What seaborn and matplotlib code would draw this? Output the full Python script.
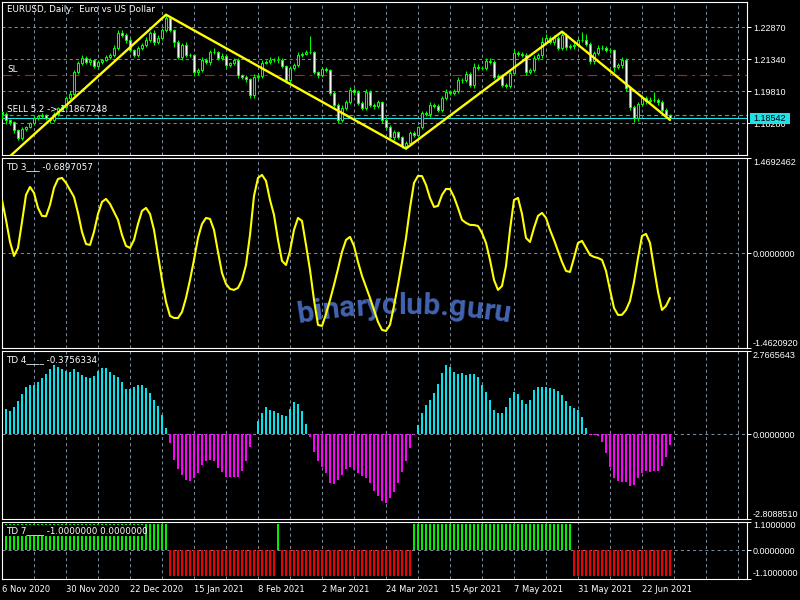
import math
import numpy as np
import pandas as pd
import matplotlib
matplotlib.use("Agg")
import matplotlib.pyplot as plt
import seaborn as sns
from matplotlib.patches import Rectangle
from matplotlib.font_manager import FontProperties

# ---------------------------------------------------------------- data
date_labels = ["6 Nov 2020", "30 Nov 2020", "22 Dec 2020", "15 Jan 2021", "8 Feb 2021",
               "2 Mar 2021", "24 Mar 2021", "15 Apr 2021", "7 May 2021", "31 May 2021",
               "22 Jun 2021"]
date_pos = [0, 16, 32, 48, 64, 80, 96, 112, 128, 144, 160]

first_open = 1.1880
closes = [
    1.18725, 1.18438, 1.18342, 1.17960, 1.17578, 1.18008, 1.18103, 1.18295, 1.18534, 1.18629,
    1.18677, 1.18534, 1.18438, 1.18725, 1.19012, 1.19059, 1.19490, 1.19681, 1.20732, 1.21163,
    1.21402, 1.21210, 1.21306, 1.21019, 1.21210, 1.21306, 1.21449, 1.21545, 1.21880, 1.22597,
    1.22501, 1.22262, 1.21784, 1.21545, 1.21880, 1.22023, 1.22262, 1.22597, 1.22166, 1.22358,
    1.22740, 1.23314, 1.22740, 1.22166, 1.21449, 1.22023, 1.21545, 1.21530, 1.20732, 1.20828,
    1.21306, 1.21210, 1.21688, 1.21670, 1.21402, 1.21497, 1.21067, 1.21163, 1.21306, 1.20589,
    1.20493, 1.20398, 1.19633, 1.20493, 1.20541, 1.21163, 1.21210, 1.21306, 1.21290, 1.21320,
    1.21019, 1.20350, 1.20924, 1.21067, 1.21545, 1.21593, 1.21688, 1.21670, 1.20732, 1.20589,
    1.20876, 1.20828, 1.19729, 1.19155, 1.18438, 1.19012, 1.19298, 1.19872, 1.19776, 1.19251,
    1.19012, 1.19776, 1.19155, 1.19107, 1.19298, 1.18438, 1.18103, 1.17625, 1.17864, 1.17625,
    1.17195, 1.17339, 1.17817, 1.17721, 1.18103, 1.18772, 1.18725, 1.19155, 1.19107, 1.18916,
    1.19490, 1.19776, 1.19729, 1.19824, 1.20350, 1.20330, 1.20637, 1.20111, 1.20971, 1.20924,
    1.20940, 1.21258, 1.21210, 1.20493, 1.20541, 1.20111, 1.20063, 1.20685, 1.21641, 1.21593,
    1.21545, 1.20732, 1.20828, 1.21402, 1.21545, 1.22166, 1.22358, 1.22166, 1.22358, 1.21880,
    1.22501, 1.21927, 1.21975, 1.22023, 1.22262, 1.22240, 1.22070, 1.21258, 1.21641, 1.21880,
    1.21860, 1.21784, 1.21770, 1.20971, 1.21067, 1.21306, 1.19968, 1.19059, 1.18534, 1.19203,
    1.19490, 1.19346, 1.19394, 1.19380, 1.19298, 1.18916, 1.18677, 1.18542]
# shadow lengths in pips (0.0001)
wick_up = [
    5, 8, 6, 5, 6, 8, 6, 7, 9, 6,
    8, 6, 7, 9, 6, 10, 8, 12, 10, 9,
    12, 8, 10, 7, 9, 6, 8, 10, 12, 14,
    12, 8, 10, 6, 9, 8, 12, 10, 15, 12,
    10, 16, 8, 6, 10, 8, 12, 8, 6, 10,
    12, 8, 10, 18, 8, 12, 9, 6, 8, 10,
    6, 8, 7, 14, 8, 12, 10, 15, 8, 18,
    8, 6, 10, 8, 12, 8, 10, 75, 8, 6,
    10, 8, 6, 8, 10, 12, 8, 14, 10, 8,
    10, 12, 8, 9, 10, 6, 8, 10, 8, 6,
    5, 8, 10, 8, 6, 10, 8, 12, 10, 8,
    10, 12, 8, 10, 15, 8, 12, 10, 18, 14,
    10, 12, 14, 8, 10, 8, 10, 12, 20, 10,
    8, 10, 8, 12, 10, 25, 20, 10, 14, 8,
    16, 8, 10, 12, 10, 40, 30, 8, 10, 12,
    15, 12, 10, 8, 10, 12, 8, 6, 8, 10,
    12, 10, 15, 38, 12, 10, 8, 6]
wick_dn = [
    25, 18, 12, 15, 10, 10, 8, 6, 8, 10,
    8, 10, 15, 8, 10, 8, 10, 12, 8, 10,
    8, 10, 12, 8, 10, 8, 6, 10, 8, 10,
    8, 12, 10, 10, 8, 12, 10, 8, 12, 10,
    8, 10, 10, 25, 10, 12, 8, 10, 20, 15,
    10, 8, 12, 10, 8, 10, 12, 8, 10, 12,
    10, 12, 15, 15, 8, 10, 6, 8, 10, 12,
    10, 12, 15, 8, 10, 8, 6, 8, 10, 12,
    8, 10, 10, 10, 15, 10, 8, 10, 12, 10,
    12, 8, 10, 12, 10, 12, 10, 12, 14, 10,
    10, 12, 10, 8, 10, 8, 10, 12, 8, 10,
    8, 10, 12, 8, 10, 12, 8, 10, 12, 8,
    10, 12, 8, 10, 12, 10, 8, 10, 12, 10,
    8, 12, 10, 8, 10, 12, 8, 10, 12, 10,
    8, 12, 10, 12, 10, 8, 10, 15, 12, 10,
    8, 10, 12, 25, 10, 12, 15, 12, 20, 15,
    10, 12, 10, 8, 12, 10, 12, 8]

zz_idx = [0, 41, 101, 140, 167]
zz_price = [1.1636, 1.2347, 1.1707, 1.2266, 1.1844]

sl_level = 1.20575
sell_level = 1.1867248
bid_level = 1.18542
price_ticks = [1.22870, 1.21340, 1.19810, 1.18280]
price_lim = (1.16765, 1.24078)

td3 = [
    0.822, 0.514, 0.174, -0.042, 0.082, 0.483, 0.900, 1.023, 0.930, 0.699,
    0.576, 0.570, 0.745, 1.008, 1.146, 1.162, 1.085, 0.977, 0.869, 0.622,
    0.329, 0.143, 0.128, 0.330, 0.606, 0.792, 0.838, 0.761, 0.637, 0.514,
    0.282, 0.113, 0.082, 0.205, 0.452, 0.653, 0.699, 0.606, 0.360, -0.026,
    -0.412, -0.751, -0.967, -0.998, -1.000, -0.906, -0.690, -0.412, -0.103, 0.236,
    0.452, 0.545, 0.529, 0.360, 0.020, -0.304, -0.474, -0.551, -0.566, -0.535,
    -0.412, -0.181, 0.282, 0.884, 1.162, 1.208, 1.116, 0.822, 0.591, 0.205,
    -0.119, -0.181, 0.035, 0.360, 0.545, 0.498, 0.128, -0.258, -0.721, -1.106,
    -1.122, -0.937, -0.721, -0.489, -0.242, 0.020, 0.205, 0.252, 0.113, -0.134,
    -0.350, -0.520, -0.690, -0.875, -1.060, -1.183, -1.199, -1.106, -0.813, -0.489,
    -0.134, 0.236, 0.699, 1.085, 1.193, 1.190, 1.054, 0.853, 0.714, 0.730,
    0.900, 0.992, 0.990, 0.869, 0.699, 0.514, 0.468, 0.437, 0.435, 0.421,
    0.313, 0.159, -0.103, -0.412, -0.566, -0.505, -0.196, 0.360, 0.822, 0.853,
    0.606, 0.236, 0.174, 0.390, 0.576, 0.622, 0.545, 0.360, 0.205, 0.035,
    -0.134, -0.273, -0.289, -0.073, 0.159, 0.190, 0.082, -0.026, -0.057, -0.073,
    -0.103, -0.273, -0.566, -0.844, -0.952, -0.950, -0.875, -0.736, -0.443, -0.073,
    0.267, 0.298, 0.159, -0.227, -0.597, -0.875, -0.813, -0.6897057]
td3_lim = (-1.4620920, 1.4692462)

td4 = [
    0.838, 0.772, 0.882, 1.081, 1.335, 1.544, 1.632, 1.630, 1.710, 1.842,
    1.985, 2.162, 2.294, 2.228, 2.140, 2.074, 2.070, 2.140, 2.052, 1.963,
    1.875, 1.870, 1.930, 2.074, 2.184, 2.180, 2.070, 1.960, 1.875, 1.710,
    1.500, 1.500, 1.544, 1.610, 1.610, 1.540, 1.357, 1.136, 0.938, 0.640,
    0.199, -0.309, -0.849, -1.147, -1.368, -1.511, -1.566, -1.456, -1.291, -1.037,
    -0.904, -0.849, -0.900, -1.125, -1.268, -1.412, -1.434, -1.430, -1.435, -1.235,
    -0.904, -0.419, 0.020, 0.419, 0.706, 0.882, 0.805, 0.750, 0.706, 0.618,
    0.596, 0.838, 1.059, 0.993, 0.772, 0.342, -0.110, -0.596, -0.904, -1.103,
    -1.291, -1.621, -1.655, -1.533, -1.346, -1.147, -1.100, -1.180, -1.290, -1.401,
    -1.456, -1.620, -1.897, -2.063, -2.228, -2.294, -2.118, -1.919, -1.620, -1.257,
    -0.904, -0.463, -0.044, 0.309, 0.695, 0.971, 1.136, 1.357, 1.655, 2.030,
    2.294, 2.206, 2.070, 1.996, 2.018, 1.963, 1.985, 1.980, 1.897, 1.632,
    1.390, 1.125, 0.805, 0.684, 0.695, 0.904, 1.191, 1.390, 1.324, 1.125,
    1.004, 1.125, 1.445, 1.566, 1.570, 1.544, 1.522, 1.489, 1.434, 1.302,
    1.081, 0.915, 0.860, 0.805, 0.552, 0.199, -0.020, -0.044, -0.077, -0.265,
    -0.640, -1.103, -1.456, -1.566, -1.588, -1.590, -1.710, -1.677, -1.456, -1.291,
    -1.235, -1.240, -1.235, -1.230, -1.070, -0.761, -0.3756334]
td4_lim = (-2.8088510, 2.7665643)

td7_runs = [(1, 41), (-1, 27), (1, 1), (-1, 33), (1, 40), (-1, 25)]
td7_lim = (-1.1, 1.1)

# ---------------------------------------------------------------- style
sns.set_theme(style="dark")
plt.rcParams.update({
    "figure.facecolor": "black", "axes.facecolor": "black",
    "savefig.facecolor": "black", "lines.scale_dashes": False,
    "axes.edgecolor": "white",
})
plt.rcParams["font.family"] = ["DejaVu Sans"]

LIME = "#00ff00"
GRID = "#778899"
YEL = "#ffff00"
CYAN = "#00e5ee"
MAG = "#ff00ff"
BIDC = "#20e0e8"
NUMFONT = "Liberation Sans"
NUMSIZE = 6.5
TXTSIZE = 6.3

W, H = 800, 600
fig = plt.figure(figsize=(8, 6), dpi=100)

def fx(px):
    return px / W

def fy(py):
    return 1 - py / H

L_PX, R_PX = 2, 747
panels = [(2, 155), (158, 348), (350.5, 519), (521.5, 578.5)]
axs = [fig.add_axes([fx(L_PX), 1 - b / H, (R_PX - L_PX) / W, (b - t) / H]) for t, b in panels]
XMAX = (R_PX - L_PX) / 4.0
grid_x = [8.075 + 8 * k for k in range(23)]
DASH = (0, (2.2, 2.2))

for ax in axs:
    ax.set_facecolor("black")
    ax.set_xlim(0, XMAX)
    for s in ax.spines.values():
        s.set_color("white")
        s.set_linewidth(0.8)
    for gx in grid_x:
        ax.axvline(gx, color=GRID, lw=0.75, ls=DASH, zorder=0.5)
    ax.grid(False)

def right_ticks(ax, vals, labels, edge=False):
    ax.yaxis.tick_right()
    ax.set_yticks(vals)
    ax.set_yticklabels(labels)
    ax.tick_params(axis="y", colors="white", length=2.9, width=0.75, pad=1.4,
                   labelsize=NUMSIZE, labelcolor="white")
    for lbl in ax.get_yticklabels():
        lbl.set_fontfamily(NUMFONT)
    if edge:
        lbls = ax.get_yticklabels()
        lbls[0].set_va("bottom")
        lbls[-1].set_va("top")

# ---------------------------------------------------------------- price panel
ax1 = axs[0]
n = min(len(closes), len(wick_up), len(wick_dn))
c = np.array(closes[:n])
o = np.array([first_open] + closes[:n - 1])
hi = np.maximum(o, c) + np.array(wick_up[:n]) * 1e-4
lo = np.minimum(o, c) - np.array(wick_dn[:n]) * 1e-4
xb = np.arange(n)
ax1.set_ylim(*price_lim)
for p in price_ticks:
    ax1.axhline(p, color=GRID, lw=0.75, ls=DASH, zorder=0.5)
ax1.axhline(sl_level, color="#ff0000", lw=0.8, ls=(0, (7, 3.5, 2.2, 3.5)), zorder=1)
ax1.axhline(sell_level, color="#22cc22", lw=0.8, ls=(0, (2.9, 2.2)), zorder=1)
ax1.axhline(bid_level, color=BIDC, lw=0.8, zorder=1.2)
ax1.vlines(xb, lo, hi, color=LIME, lw=0.75, zorder=3)
bodies = pd.DataFrame({"x": xb, "bottom": np.minimum(o, c),
                       "h": np.maximum(np.abs(c - o), 2e-6),
                       "face": np.where(c >= o, "black", "white")})
ax1.bar(bodies["x"], bodies["h"], bottom=bodies["bottom"], width=0.62,
        color=bodies["face"], edgecolor=LIME, linewidth=0.75, zorder=4)
sns.lineplot(x=zz_idx, y=zz_price, ax=ax1, color=YEL, lw=1.7, zorder=6,
             sort=False, legend=False)
ax1.set_xlabel("")
ax1.set_ylabel("")
ax1.set_xticks([])
right_ticks(ax1, price_ticks, [f"{p:.5f}" for p in price_ticks])

fig.text(fx(7), fy(10), "EURUSD, Daily:  Euro vs US Dollar", color="white",
         fontsize=TXTSIZE, va="center", ha="left")
fig.text(fx(7), fy(70), "SL", color="white", fontsize=TXTSIZE, va="center", ha="left")
fig.text(fx(7), fy(109.3), "SELL 5.2 -> 1.1867248", color="white", fontsize=TXTSIZE,
         va="center", ha="left", zorder=5)

# bid price box
fig.add_artist(Rectangle((fx(750), fy(124)), fx(40), 11 / H, transform=fig.transFigure,
                         facecolor=BIDC, edgecolor="none", zorder=10))
fig.text(fx(770), fy(118.5), f"{bid_level:.5f}", color="black", fontsize=NUMSIZE,
         family=NUMFONT, ha="center", va="center", zorder=11)

# ---------------------------------------------------------------- TD 3
ax2 = axs[1]
ax2.set_ylim(*td3_lim)
ax2.axhline(0, color=GRID, lw=0.75, ls=DASH, zorder=0.5)
sns.lineplot(x=np.arange(len(td3)), y=td3, ax=ax2, color=YEL, lw=1.5, zorder=5,
             legend=False)
ax2.set_xlabel("")
ax2.set_ylabel("")
ax2.set_xticks([])
right_ticks(ax2, [td3_lim[0], 0, td3_lim[1]],
            [f"{td3_lim[0]:.7f}", "0.0000000", f"{td3_lim[1]:.7f}"], edge=True)
ax2.text(fx(6), fy(166.7), "TD 3___ " + f"{td3[-1]:.7f}", color="white",
         fontsize=TXTSIZE, va="center", ha="left", transform=fig.transFigure)

# watermark along a gentle arc
wm = "binaryclub.guru"
fp = FontProperties(family="Roboto", weight="bold", size=18)
renderer = fig.canvas.get_renderer()
wid = [renderer.get_text_width_height_descent(ch, fp, ismath=False)[0] for ch in wm]
total = sum(wid)
scale = 212.0 / total
fp = FontProperties(family="Roboto", weight="bold", size=18 * scale)
wid = [w * scale for w in wid]
Rr = 650.0
cx, base_py = 404.0, 314.0
s = -sum(wid) / 2
for ch, w in zip(wm, wid):
    sc = s + w / 2
    th = sc / Rr
    px = cx + Rr * math.sin(th)
    py = base_py + Rr * (1 - math.cos(th))
    ax2.text(fx(px), fy(py), ch, fontproperties=fp, color="#4a6cc0", ha="center",
             va="baseline", rotation=-math.degrees(th), rotation_mode="anchor",
             transform=fig.transFigure, zorder=2, alpha=0.92)
    s += w

# ---------------------------------------------------------------- TD 4
ax3 = axs[2]
ax3.set_ylim(*td4_lim)
ax3.axhline(0, color=GRID, lw=0.75, ls=DASH, zorder=0.5)
x4 = np.arange(1, len(td4) + 1)
ax3.bar(x4, td4, width=0.5, color=[CYAN if v >= 0 else MAG for v in td4],
        linewidth=0, zorder=3)
ax3.set_xticks([])
right_ticks(ax3, [td4_lim[0], 0, td4_lim[1]],
            [f"{td4_lim[0]:.7f}", "0.0000000", f"{td4_lim[1]:.7f}"], edge=True)
ax3.text(fx(6), fy(359.7), "TD 4____ " + f"{td4[-1]:.7f}", color="white",
         fontsize=TXTSIZE, va="center", ha="left", transform=fig.transFigure)

# ---------------------------------------------------------------- TD 7
ax4 = axs[3]
ax4.set_ylim(*td7_lim)
ax4.axhline(0, color=GRID, lw=0.75, ls=DASH, zorder=0.5)
td7 = []
for v, cnt in td7_runs:
    td7 += [v] * cnt
x7 = np.arange(1, len(td7) + 1)
up = [i for i, v in zip(x7, td7) if v > 0]
dn = [i for i, v in zip(x7, td7) if v < 0]
ax4.bar(up, [1] * len(up), width=0.5, color="#00ee00", linewidth=0, zorder=3)
ax4.bar(dn, [-1] * len(dn), width=0.68, color="#ee0000", linewidth=0, zorder=3)
# black plate under the indicator caption
ax4.add_patch(Rectangle((fx(5), fy(535.5)), fx(139), 10.5 / H, transform=fig.transFigure,
                        facecolor="black", edgecolor="none", zorder=6))
ax4.text(fx(6), fy(530.2), "TD 7____ -1.0000000 0.0000000", color="white",
         fontsize=TXTSIZE, va="center", ha="left", transform=fig.transFigure, zorder=7)
right_ticks(ax4, [td7_lim[0], 0, td7_lim[1]], ["-1.1000000", "0.0000000", "1.1000000"],
            edge=True)
ax4.set_xticks(date_pos)
ax4.set_xticklabels(date_labels)
ax4.tick_params(axis="x", colors="white", length=3, width=0.75, pad=1.8,
                labelsize=6.0, labelcolor="white", direction="out")
for lbl in ax4.get_xticklabels():
    lbl.set_ha("left")

fig.savefig("out.png", dpi=100, facecolor="black")
